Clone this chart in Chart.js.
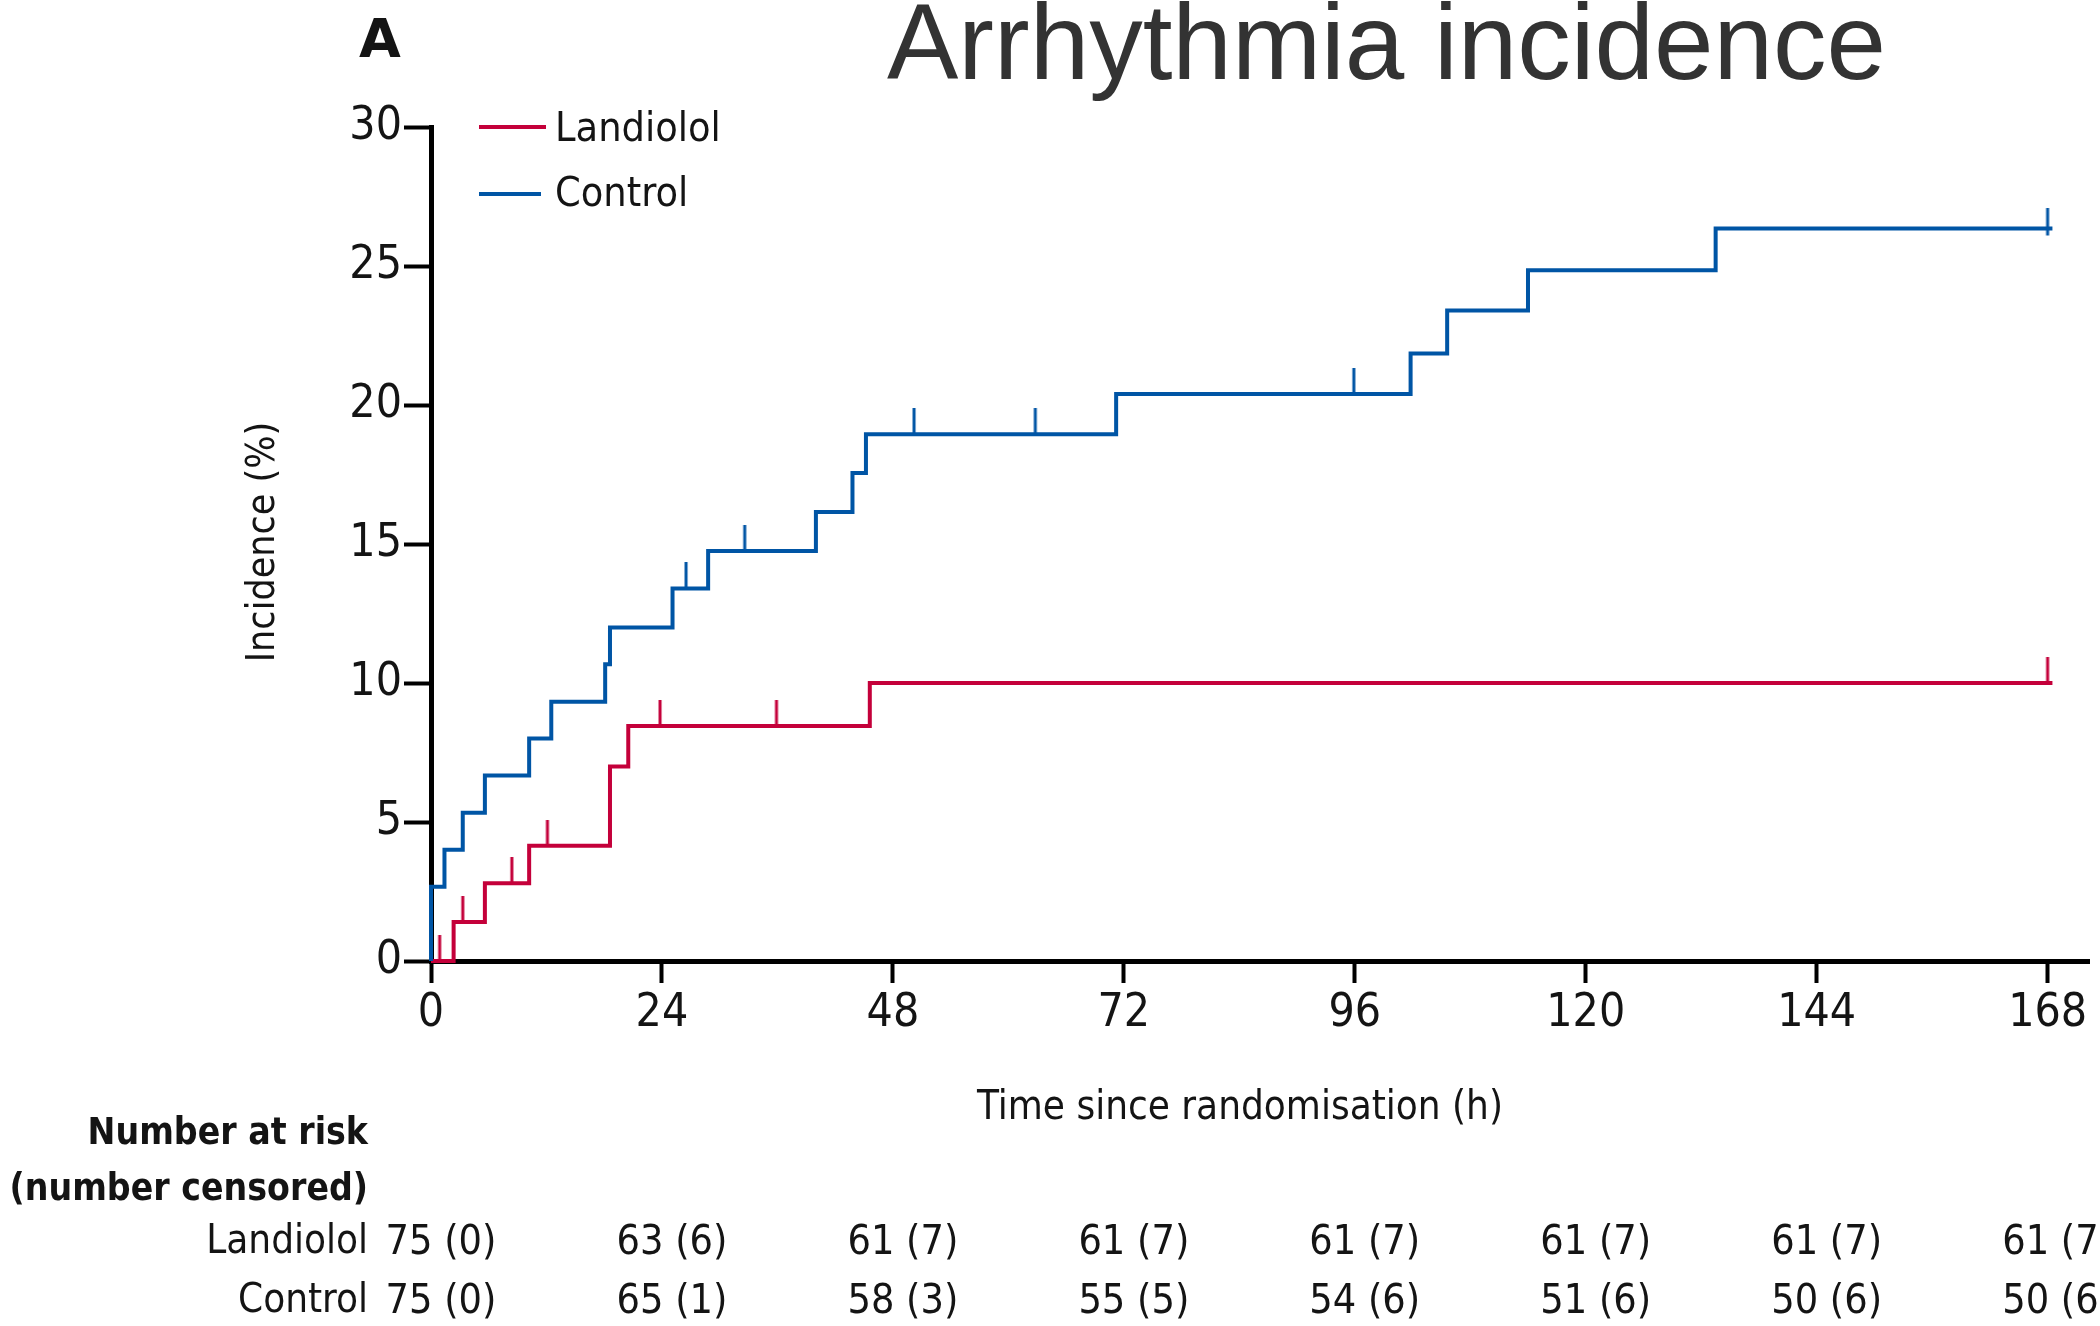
<!DOCTYPE html>
<html>
<head>
<meta charset="utf-8">
<script src="https://cdn.jsdelivr.net/npm/chart.js@4.4.0/dist/chart.umd.min.js"></script>
<style>
html,body{margin:0;padding:0;background:#fff;}
#wrap{width:2100px;height:1326px;position:relative;}
canvas{display:block;}
</style>
</head>
<body>
<div id="wrap"><canvas id="c" width="2100" height="1326"></canvas></div>
<script>
// ---------- data ----------
const chartTitle = 'Arrhythmia incidence';
const panelLetter = 'A';
const seriesNames = ['Landiolol', 'Control'];
const xAxisTitle = 'Time since randomisation (h)';
const yAxisTitle = 'Incidence (%)';

const landiololTimes  = [0, 2.35, 5.6, 10.2, 18.6, 20.5, 45.6, 168.5];
const landiololValues = [0, 1.4,  2.8, 4.15, 7.0,  8.45, 10.0, 10.0];
const landiololCensorTimes = [0.9, 3.3, 8.4, 12.1, 23.8, 35.9, 168];

const controlTimes  = [0, 0,    1.4, 3.3,  5.6,  10.2, 12.5, 18.1,  18.6, 25.1, 28.8,  40.0,  43.8,  45.2,  71.2, 101.8, 105.6, 114.0, 133.5, 168.5];
const controlValues = [0, 2.67, 4.0, 5.33, 6.67, 8.0,  9.33, 10.67, 12.0, 13.4, 14.75, 16.15, 17.55, 18.95, 20.4, 21.85, 23.4,  24.85, 26.35, 26.35];
const controlCensorTimes = [26.5, 32.6, 50.2, 62.8, 95.9, 168];

const xTickValues = [0, 24, 48, 72, 96, 120, 144, 168];
const yTickValues = [0, 5, 10, 15, 20, 25, 30];

const riskHeader = ['Number at risk', '(number censored)'];
const riskTimes = [0, 24, 48, 72, 96, 120, 144, 168];
const riskLandiolol = ['75 (0)', '63 (6)', '61 (7)', '61 (7)', '61 (7)', '61 (7)', '61 (7)', '61 (7)'];
const riskControl   = ['75 (0)', '65 (1)', '58 (3)', '55 (5)', '54 (6)', '51 (6)', '50 (6)', '50 (6)'];

// ---------- styling ----------
const RED = '#C4003A';
const BLUE = '#0055A5';
const INK = '#141414';
const FONT = "'DejaVu Sans Condensed', 'Liberation Sans Narrow', 'DejaVu Sans', sans-serif";

function pts(times, values) { return times.map((t, i) => ({x: t, y: values[i]})); }
function stepAt(times, values, t) {
  let v = values[0];
  for (let i = 0; i < times.length; i++) if (times[i] <= t) v = values[i];
  return v;
}
function censorPts(ct, times, values) { return ct.map(t => ({x: t, y: stepAt(times, values, t)})); }

function tickImage(color, up, down) {
  const c = document.createElement('canvas');
  const h = Math.max(up, down) * 2;
  c.width = 6; c.height = h;
  const g = c.getContext('2d');
  g.fillStyle = color;
  g.fillRect(1.5, h / 2 - up, 3, up + down);
  return c;
}
const redTick = tickImage(RED, 26, 0);
const blueTick = tickImage(BLUE, 26, 0);
const blueCross = tickImage(BLUE, 20, 7);

const textPlugin = {
  id: 'texts',
  afterDraw(chart) {
    const ctx = chart.ctx;
    const xs = chart.scales.x;
    ctx.save();
    // title
    ctx.fillStyle = '#333333';
    ctx.font = "107px 'Liberation Sans', Arial, sans-serif";
    ctx.textAlign = 'left';
    ctx.textBaseline = 'alphabetic';
    ctx.fillText(chartTitle, 887, 79);
    // panel letter
    ctx.fillStyle = INK;
    ctx.font = "bold 54px 'DejaVu Sans', sans-serif";
    ctx.fillText(panelLetter, 359, 57);
    // legend
    const legY = [130, 195];
    const legColors = [RED, BLUE];
    const legLen = [67, 62];
    ctx.font = "41px " + FONT;
    ctx.textBaseline = 'middle';
    seriesNames.forEach((n, i) => {
      ctx.strokeStyle = legColors[i];
      ctx.lineWidth = 4;
      ctx.beginPath();
      const ly = i === 0 ? 127 : 194;
      ctx.moveTo(479, ly);
      ctx.lineTo(479 + legLen[i], ly);
      ctx.stroke();
      ctx.fillStyle = INK;
      ctx.fillText(n, 555, legY[i]);
    });
    // y axis title
    ctx.save();
    ctx.translate(264, 542);
    ctx.rotate(-Math.PI / 2);
    ctx.textAlign = 'center';
    ctx.font = "39px " + FONT;
    ctx.fillText(yAxisTitle, 0, 0);
    ctx.restore();
    // x axis title
    ctx.textAlign = 'center';
    ctx.font = "40px " + FONT;
    ctx.fillText(xAxisTitle, 1240, 1109);
    // risk table
    ctx.textAlign = 'right';
    ctx.font = "bold 37px " + FONT;
    ctx.fillText(riskHeader[0], 368, 1134);
    ctx.fillText(riskHeader[1], 368, 1190);
    ctx.font = "40px " + FONT;
    ctx.fillText(seriesNames[0], 368, 1243);
    ctx.fillText(seriesNames[1], 368, 1302);
    ctx.textAlign = 'center';
    ctx.font = "41px " + FONT;
    riskTimes.forEach((t, i) => {
      const px = xs.getPixelForValue(t) + 10;
      ctx.fillText(riskLandiolol[i], px, 1243);
      ctx.fillText(riskControl[i], px, 1302);
    });
    ctx.restore();
  }
};

new Chart(document.getElementById('c'), {
  type: 'scatter',
  data: {
    datasets: [
      {
        type: 'line', label: seriesNames[0], data: pts(landiololTimes, landiololValues),
        borderColor: RED, borderWidth: 4, stepped: 'before', pointRadius: 0, fill: false, clip: false, order: 2
      },
      {
        type: 'line', label: seriesNames[1], data: pts(controlTimes, controlValues),
        borderColor: BLUE, borderWidth: 4, stepped: 'before', pointRadius: 0, fill: false, clip: false, order: 1
      },
      {
        type: 'scatter', label: 'Landiolol censored', data: censorPts(landiololCensorTimes, landiololTimes, landiololValues),
        pointStyle: redTick, pointRadius: 10, clip: false, order: 0
      },
      {
        type: 'scatter', label: 'Control censored', data: censorPts(controlCensorTimes, controlTimes, controlValues),
        pointStyle: (c) => c.dataIndex === controlCensorTimes.length - 1 ? blueCross : blueTick,
        pointRadius: 10, clip: false, order: 0
      }
    ]
  },
  options: {
    responsive: false,
    animation: false,
    devicePixelRatio: 1,
    layout: { padding: { top: 127, right: 11, left: 0, bottom: 0 } },
    plugins: { legend: { display: false }, title: { display: false }, tooltip: { enabled: false } },
    scales: {
      x: {
        type: 'linear', min: 0, max: 172.3,
        afterBuildTicks: s => { s.ticks = xTickValues.map(v => ({value: v})); },
        afterFit: s => { s.height = 365; s.paddingLeft = 0; s.paddingRight = 0; },
        grid: { display: true, drawOnChartArea: false, drawTicks: true, tickLength: 22, tickWidth: 4, tickColor: '#000' },
        border: { display: true, width: 5, color: '#000' },
        ticks: { color: INK, font: { family: FONT, size: 46 }, padding: 3, maxRotation: 0, autoSkip: false }
      },
      y: {
        type: 'linear', min: 0, max: 30,
        afterBuildTicks: s => { s.ticks = yTickValues.map(v => ({value: v})); },
        afterFit: s => { s.width = 431; s.paddingTop = 0; s.paddingBottom = 0; },
        grid: { display: true, drawOnChartArea: false, drawTicks: true, tickLength: 27, tickWidth: 4, tickColor: '#000' },
        border: { display: true, width: 5, color: '#000' },
        ticks: { color: INK, font: { family: FONT, size: 46 }, padding: 2, autoSkip: false }
      }
    }
  },
  plugins: [textPlugin]
});
</script>
</body>
</html>
